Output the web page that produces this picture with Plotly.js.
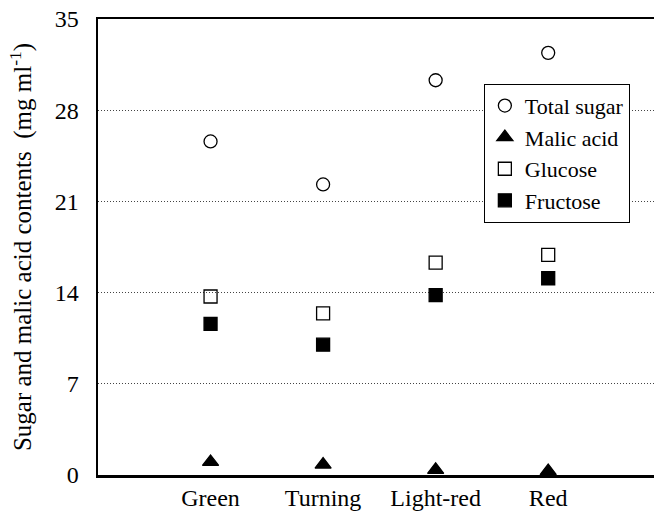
<!DOCTYPE html>
<html><head><meta charset="utf-8">
<script src="https://cdn.plot.ly/plotly-3.0.1.min.js"></script>
<style>body{margin:0;background:#fff}#c{width:654px;height:512px}</style>
</head><body><div id="c"></div>
<script>
const stages = ["Green", "Turning", "Light-red", "Red"];
const totalSugar = [25.6, 22.3, 30.3, 32.4];
const malicAcid = [1.0, 0.8, 0.4, 0.3];
const glucose = [13.7, 12.4, 16.3, 16.9];
const fructose = [11.6, 10.0, 13.8, 15.1];
const yTicks = [0, 7, 14, 21, 28, 35];

const idx = stages.map((_, i) => i);
function tr(name, y, symbol, size) {
  return {x: idx, y: y, name: name, type: "scatter", mode: "markers",
    marker: {symbol: symbol, size: size, color: "#000", line: {color: "#000", width: 1.3}},
    cliponaxis: false};
}
const data = [
  tr("Total sugar", totalSugar, "circle-open", 13),
  tr("Malic acid", malicAcid, "triangle-up", 14),
  tr("Glucose", glucose, "square-open", 13),
  tr("Fructose", fructose, "square", 13)
];
const font = {family: "'Liberation Serif', 'Times New Roman', serif", color: "#000"};
const f = s => Object.assign({size: s}, font);
const layout = {
  width: 654, height: 512,
  margin: {l: 98, r: 0, t: 19, b: 37},
  paper_bgcolor: "#fff", plot_bgcolor: "#fff",
  font: f(22),
  showlegend: true,
  legend: {x: 0.694, y: 0.858, xanchor: "left", yanchor: "top",
    bordercolor: "#000", borderwidth: 1, bgcolor: "#fff",
    font: f(22), tracegroupgap: 0, itemwidth: 30},
  xaxis: {range: [-1, 3.94], tickvals: idx, ticktext: stages, showgrid: false,
    zeroline: false, showline: true, linecolor: "#000", linewidth: 2.5, mirror: true,
    ticks: "", tickfont: f(24)},
  yaxis: {range: [0, 35], tickvals: yTicks, showgrid: true, gridcolor: "#444",
    griddash: "1px,2px", gridwidth: 1, zeroline: false, showline: true,
    linecolor: "#000", linewidth: 2.5, ticks: "", ticklabelstandoff: 12,
    tickfont: f(24),
    title: {text: "Sugar and malic acid contents  (mg ml<sup>-1</sup>)", standoff: 16,
      font: f(25)}}
};
Plotly.newPlot("c", data, layout, {displayModeBar: false, staticPlot: true});
</script></body></html>
